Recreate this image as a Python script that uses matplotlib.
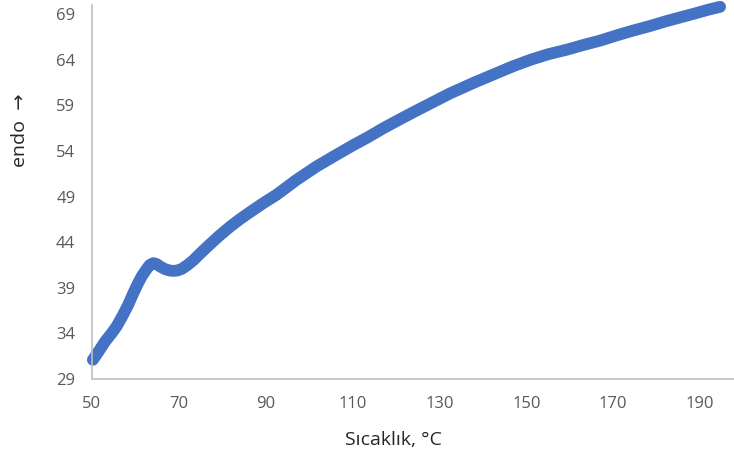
import matplotlib
matplotlib.use("Agg")
import matplotlib.pyplot as plt
import numpy as np

temp = [50.2, 51.5, 53.0, 54.5, 55.7, 57.0, 58.3, 59.5, 60.5, 61.5, 62.5, 63.3, 64.1, 64.9, 65.8, 66.8, 67.8,
        68.7, 69.7, 70.8, 72.0, 73.3, 75.0, 77.0, 79.3, 81.8, 84.0, 86.4, 89.5, 92.5, 97.0,
        101.7, 106.0, 110.0, 113.5, 117.1, 121.0, 125.0, 128.7, 132.4, 138.0, 143.5, 147.0, 151.0,
        155.0, 159.3, 163.0, 167.0, 171.0, 174.6, 178.5, 182.0, 185.5, 189.0, 192.0, 194.6]
endo = [31.1, 32.0, 33.1, 34.0, 34.8, 35.9, 37.1, 38.4, 39.4, 40.3, 41.0, 41.5, 41.7, 41.6, 41.3, 41.05, 40.9,
        40.85, 40.9, 41.1, 41.5, 42.0, 42.8, 43.7, 44.7, 45.7, 46.5, 47.3, 48.3, 49.2, 50.8,
        52.3, 53.5, 54.6, 55.5, 56.5, 57.5, 58.5, 59.4, 60.3, 61.5, 62.6, 63.3, 64.0,
        64.6, 65.1, 65.6, 66.1, 66.7, 67.2, 67.7, 68.2, 68.65, 69.1, 69.5, 69.8]

xticks = [50, 70, 90, 110, 130, 150, 170, 190]
yticks = [29, 34, 39, 44, 49, 54, 59, 64, 69]

plt.rcParams['font.family'] = ['Open Sans', 'DejaVu Sans']

fig = plt.figure(figsize=(7.34, 4.61), dpi=100)
ax = fig.add_axes([92/734, 1-379/461, 1-92/734, (379-5)/461])
ax.plot(temp, endo, color='#4472C4', lw=8.5, solid_capstyle='round', solid_joinstyle='round', clip_on=False)
ax.set_xlim(50, 197.8)
ax.set_ylim(29, 70)
ax.set_xticks(xticks)
ax.set_yticks(yticks)
ax.tick_params(length=0, labelsize=12, labelcolor='#595959')
ax.tick_params(axis='x', pad=12)
ax.tick_params(axis='y', pad=12)
for s in ['top', 'right']:
    ax.spines[s].set_visible(False)
for s in ['left', 'bottom']:
    ax.spines[s].set_color('#BFBFBF')
    ax.spines[s].set_linewidth(1.2)

fig.text(393/734, 1-440/461, 'Sıcaklık, °C', ha='center', va='center', fontsize=14, color='#262626')
fig.text(20/734, 1-130/461, 'endo  →', ha='center', va='center', rotation=90, fontsize=14, color='#262626',
         family=['Open Sans', 'DejaVu Sans'])

fig.savefig('out.png', dpi=100)
